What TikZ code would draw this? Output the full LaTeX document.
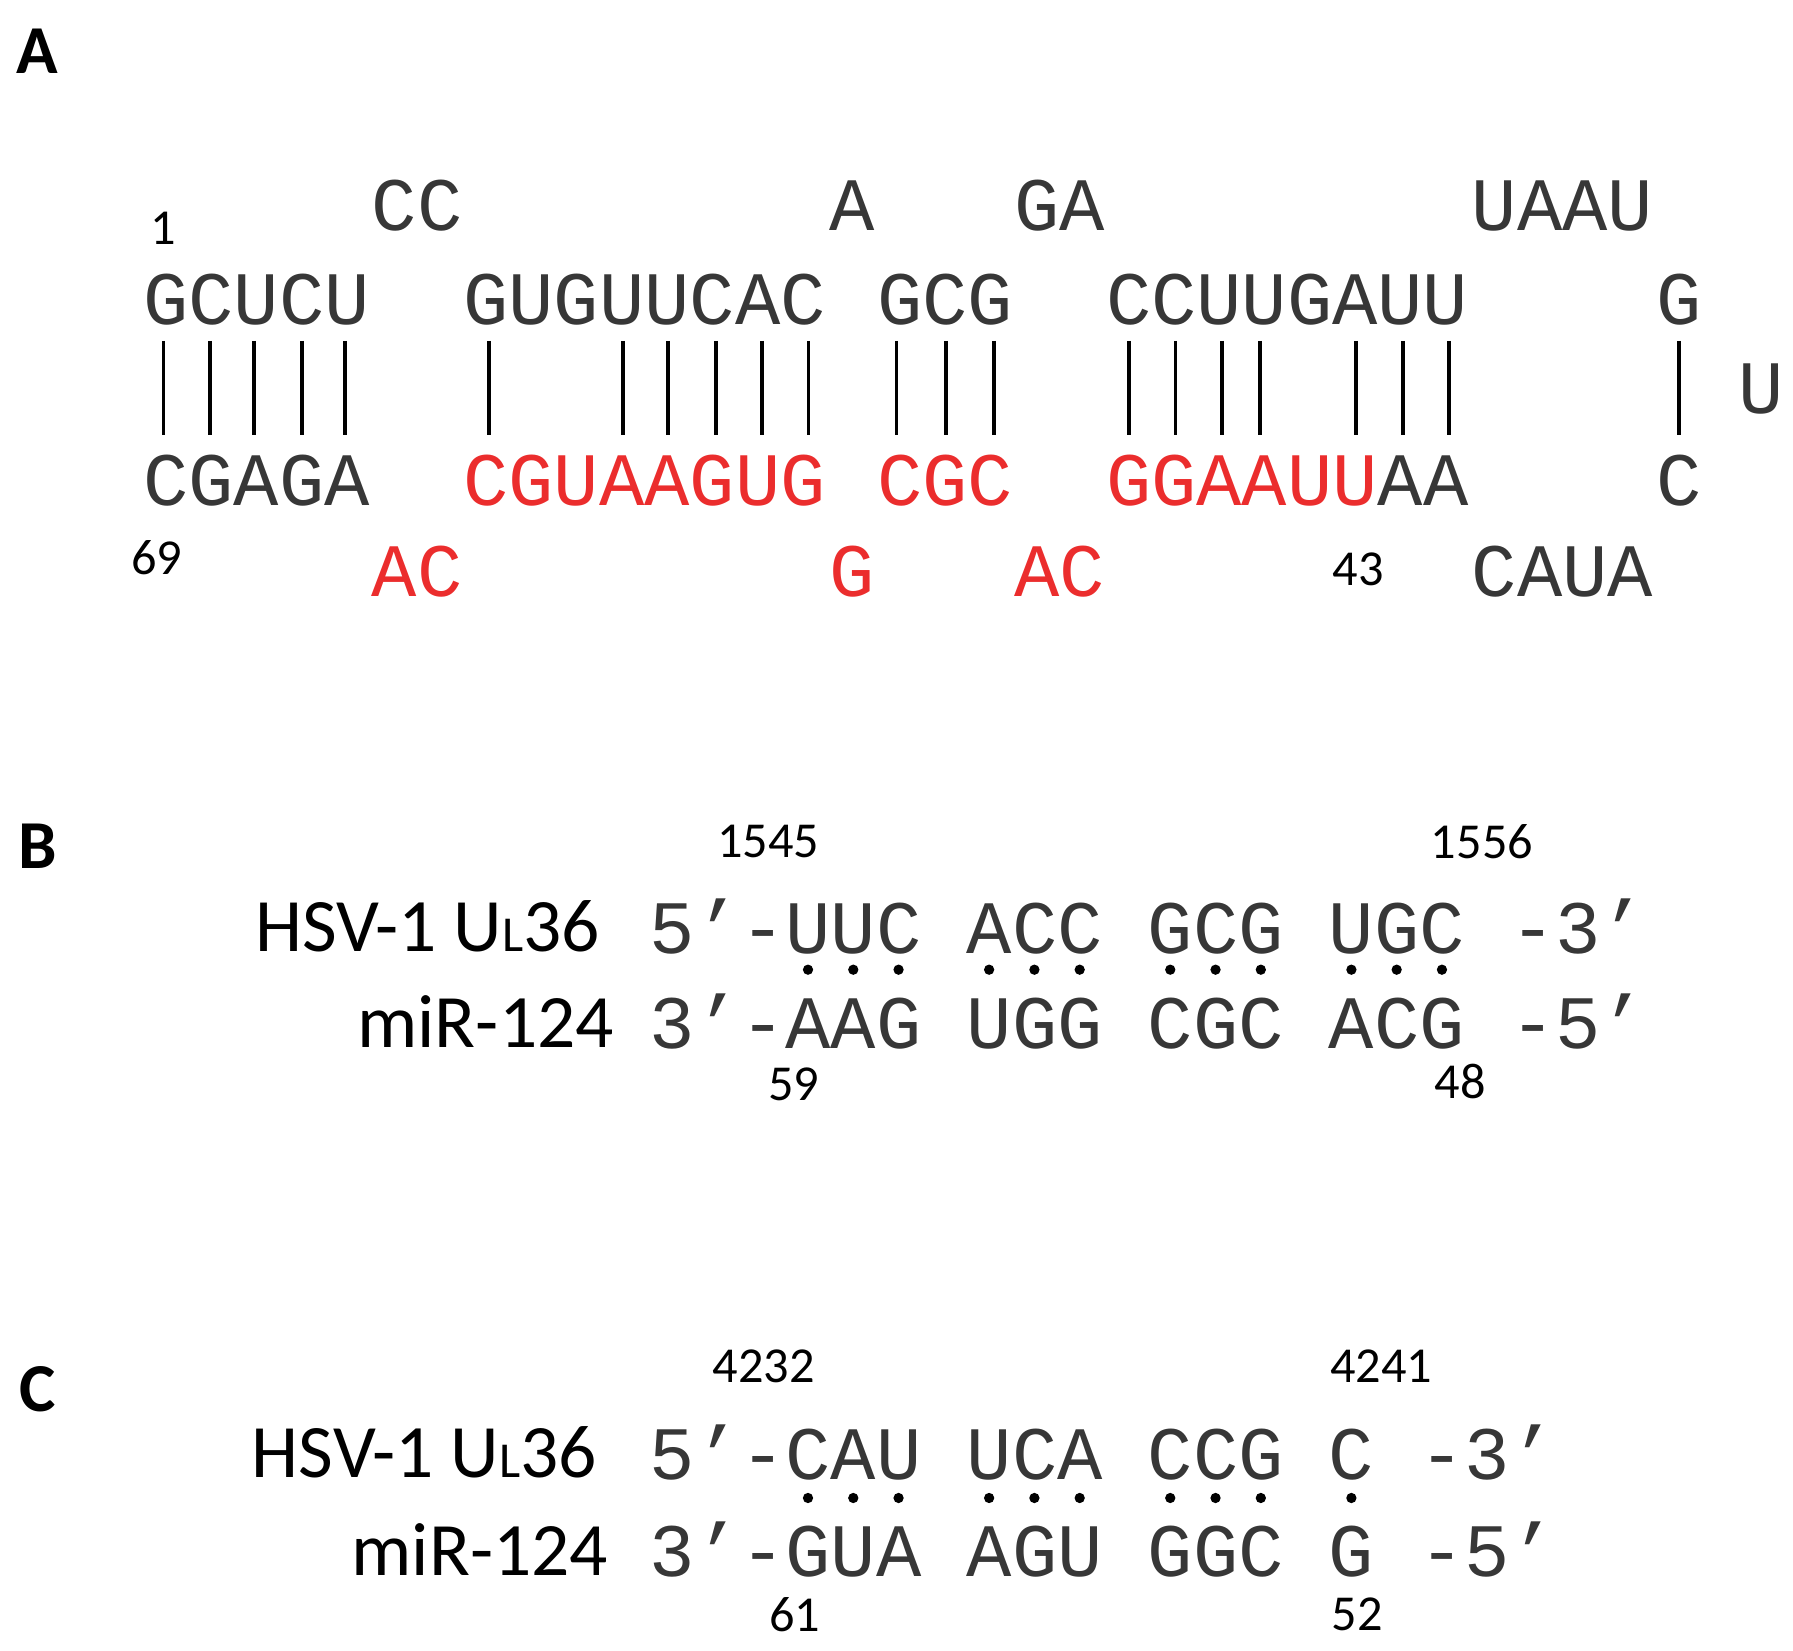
\documentclass[tikz,border=0pt]{standalone}
\usepackage{fontspec}
\setmainfont{Carlito}
\newfontfamily\seqfont{Liberation Mono}
\usetikzlibrary{positioning}
\definecolor{dnared}{RGB}{235,45,45}
\definecolor{seqgray}{RGB}{55,55,55}

\begin{document}
\begin{tikzpicture}[
	x=1pt,y=-1pt,
	seq/.style = {anchor=west, inner sep=0pt, text=seqgray, font=\seqfont\fontsize{66}{66}\selectfont},
	num/.style = {inner sep=0pt, font=\fontsize{44}{44}\selectfont},
	lbl/.style = {anchor=east, inner sep=0pt, font=\fontsize{66}{66}\selectfont},
	panel/.style = {inner sep=0pt, font=\bfseries\fontsize{60}{60}\selectfont},
	pair/.style = {line width=3.4pt},
	dot/.style = {circle, fill, inner sep=0pt, minimum size=9pt}
	]
	\useasboundingbox (0,0) rectangle (1568,1443);
	
	% panel A: hairpin
	\node (pA) [panel] at (33,45) {A};
	\node (t1) [seq] at (325,180) {CC};
	\node (t2) [seq] at (725,180) {A};
	\node (t3) [seq] at (887,180) {GA};
	\node (t4) [seq] at (1287,180) {UAAU};
	\node (u1) [seq] at (125,262) {GCUCU};
	\node (u2) [seq] at (405,262) {GUGUUCAC};
	\node (u3) [seq] at (767,262) {GCG};
	\node (u4) [seq] at (967,262) {CCUUGAUU};
	\node (u5) [seq] at (1448,262) {G};
	\node (loop) [seq] at (1520,340) {U};
	\node (l1) [seq] at (125,420) {CGAGA};
	\node (l2) [seq,text=dnared] at (405,420) {CGUAAGUG};
	\node (l3) [seq,text=dnared] at (767,420) {CGC};
	\node (l4) [seq] at (967,420) {\textcolor{dnared}{GGAAUU}AA};
	\node (l5) [seq] at (1448,420) {C};
	\node (b1) [seq,text=dnared] at (325,500) {AC};
	\node (b2) [seq,text=dnared] at (725,500) {G};
	\node (b3) [seq,text=dnared] at (887,500) {AC};
	\node (b4) [seq] at (1287,500) {CAUA};
	\node (n1) [num] at (143,200) {1};
	\node (n69) [num] at (137,488) {69};
	\node (n43) [num] at (1188,498) {43};
	\foreach \x in {143,184,222,264,302,428,545,584,626,666,707,
		784,827,869,987,1028,1069,1102,1186,1227,1267,1468}
		\draw[pair] (\x,298) -- (\x,380);
	
	% panel B
	\node (pB) [panel] at (33,740) {B};
	\node (hB) [lbl] at (525,810) {HSV-1 U{\fontsize{44}{44}\selectfont L}36};
	\node (mB) [lbl] at (537,893) {miR-124};
	\node (sB1) [seq] at (568,810) {5’-UUC ACC GCG UGC -3’};
	\node (sB2) [seq] at (568,893) {3’-AAG UGG CGC ACG -5’};
	\node (n1545) [num] at (672,736) {1545};
	\node (n1556) [num] at (1296,736) {1556};
	\node (n59) [num] at (694,948) {59};
	\node (n48) [num] at (1277,946) {48};
	\foreach \k in {3,4,5,7,8,9,11,12,13,15,16,17}
		\node[dot] at ({568+19.8+\k*39.6},848) {};
	
	% panel C
	\node (pC) [panel] at (33,1215) {C};
	\node (hC) [lbl] at (522,1270) {HSV-1 U{\fontsize{44}{44}\selectfont L}36};
	\node (mC) [lbl] at (532,1355) {miR-124};
	\node (sC1) [seq] at (568,1270) {5’-CAU UCA CCG C -3’};
	\node (sC2) [seq] at (568,1355) {3’-GUA AGU GGC G -5’};
	\node (n4232) [num] at (668,1195) {4232};
	\node (n4241) [num] at (1208,1195) {4241};
	\node (n61) [num] at (695,1412) {61};
	\node (n52) [num] at (1187,1412) {52};
	\foreach \k in {3,4,5,7,8,9,11,12,13,15}
		\node[dot] at ({568+19.8+\k*39.6},1310) {};
\end{tikzpicture}
\end{document}
